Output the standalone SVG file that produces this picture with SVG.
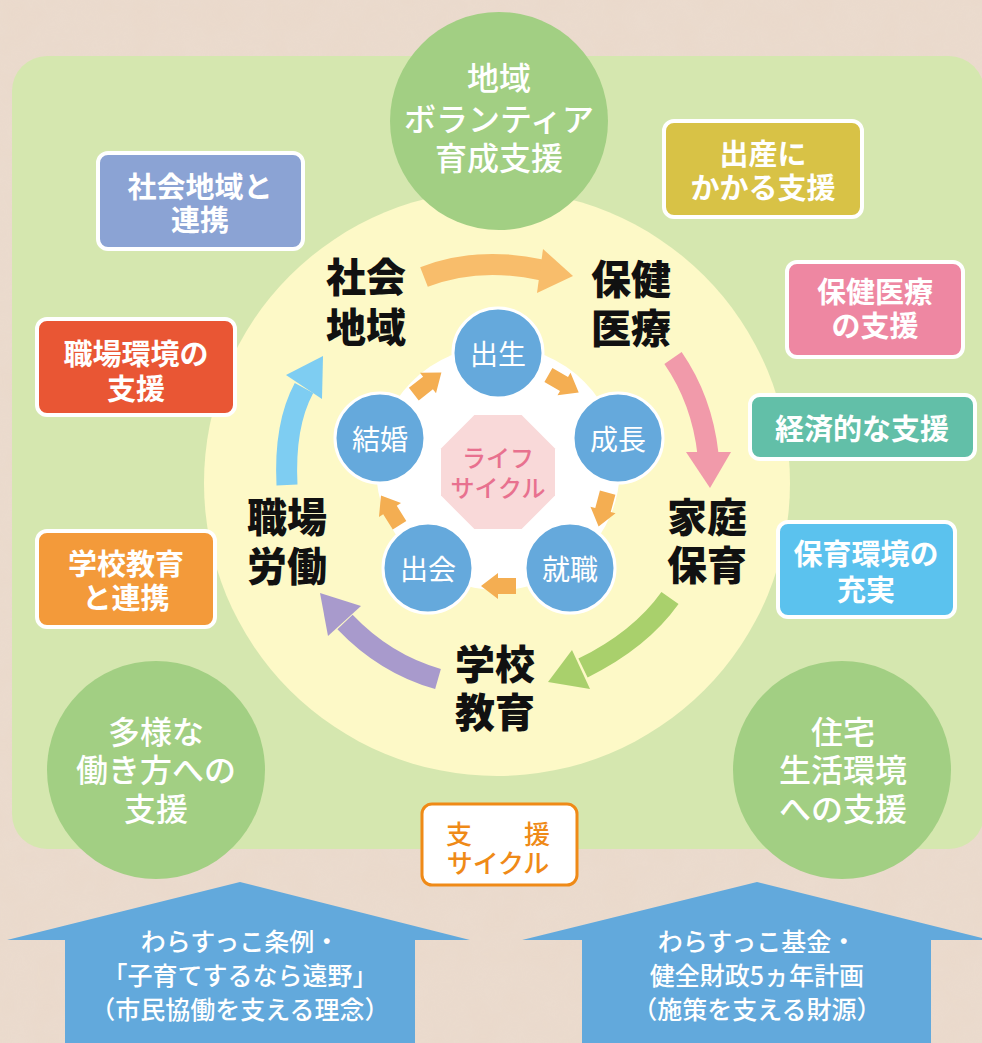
<svg xmlns="http://www.w3.org/2000/svg" width="982" height="1043" viewBox="0 0 982 1043">
<defs>
<style>
.jp{font-family:"Noto Sans CJK JP","Noto Sans",sans-serif;text-anchor:middle;dominant-baseline:central}
.big{font-size:40px;font-weight:900;fill:#111}
.box{stroke:#fff;stroke-width:4}
.bt{font-size:29px;font-weight:700;fill:#fff}
.ct{font-size:32px;font-weight:500;fill:#fff}
.sc{fill:#65a9dc;stroke:#fff;stroke-width:3}
.st{font-size:28px;fill:#fff}
.shaft{fill:none;stroke-width:21}
.at{font-size:25px;font-weight:500;fill:#fff}
</style>
<path id="sa" d="M-18,-8 H0 V-13 L17,0 L0,13 V8 H-18 Z" fill="#f4ae52"/>
<filter id="tex" x="0" y="0" width="100%" height="100%">
<feTurbulence type="fractalNoise" baseFrequency="0.03" numOctaves="3" seed="4"/>
<feColorMatrix values="0 0 0 0 0.85  0 0 0 0 0.78  0 0 0 0 0.72  0 0 0 0.35 0"/>
</filter>
</defs>
<rect width="982" height="1043" fill="#ead9cb"/>
<rect width="982" height="1043" filter="url(#tex)" opacity="0.6"/>
<rect x="12" y="56" width="972" height="793" rx="35" fill="#d5e7af"/>
<circle cx="497" cy="483" r="293" fill="#fdf9c7"/>
<circle cx="498" cy="468" r="122" fill="#fff"/>

<g id="circle-volunteer"><circle cx="499" cy="121" r="109" fill="#a2cf83"/>
<text class="jp ct"><tspan x="499" y="76">地域</tspan><tspan x="499" y="117">ボランティア</tspan><tspan x="499" y="156">育成支援</tspan></text></g>
<g id="circle-work"><circle cx="156" cy="770" r="109" fill="#a2cf83"/>
<text class="jp ct"><tspan x="156" y="730">多様な</tspan><tspan x="156" y="768">働き方への</tspan><tspan x="156" y="807">支援</tspan></text></g>
<g id="circle-housing"><circle cx="842" cy="770" r="109" fill="#a2cf83"/>
<text class="jp ct"><tspan x="843" y="730">住宅</tspan><tspan x="843" y="768">生活環境</tspan><tspan x="843" y="807">への支援</tspan></text></g>

<g id="box-community"><rect class="box" x="98" y="153" width="205" height="96" rx="10" fill="#8ba3d4"/>
<text class="jp bt"><tspan x="200" y="185">社会地域と</tspan><tspan x="200" y="218">連携</tspan></text></g>
<g id="box-birth"><rect class="box" x="664" y="121" width="198" height="96" rx="10" fill="#d8c246"/>
<text class="jp bt"><tspan x="763" y="152">出産に</tspan><tspan x="763" y="186">かかる支援</tspan></text></g>
<g id="box-health"><rect class="box" x="787" y="262" width="176" height="95" rx="10" fill="#ee87a2"/>
<text class="jp bt"><tspan x="875" y="290">保健医療</tspan><tspan x="875" y="324">の支援</tspan></text></g>
<g id="box-workplace"><rect class="box" x="37" y="319" width="198" height="96" rx="10" fill="#e95634"/>
<text class="jp bt"><tspan x="136" y="352">職場環境の</tspan><tspan x="136" y="387">支援</tspan></text></g>
<g id="box-economic"><rect class="box" x="750" y="395" width="225" height="64" rx="10" fill="#62bfa8"/>
<text class="jp bt" x="862" y="427">経済的な支援</text></g>
<g id="box-childcare"><rect class="box" x="778" y="522" width="177" height="95" rx="10" fill="#5bc2ee"/>
<text class="jp bt"><tspan x="866" y="552">保育環境の</tspan><tspan x="866" y="588">充実</tspan></text></g>
<g id="box-school"><rect class="box" x="37" y="531" width="178" height="96" rx="10" fill="#f39a3a"/>
<text class="jp bt"><tspan x="126" y="562">学校教育</tspan><tspan x="126" y="596">と連携</tspan></text></g>

<g id="connectors">
<path class="shaft" d="M424,277 Q478,256 542,270" stroke="#f8bd6b"/><polygon points="573,276 543,249 537,293" fill="#f8bd6b"/>
<path class="shaft" d="M673,358 Q702,400 708,454" stroke="#f19aaa"/><polygon points="710,488 686,452 731,452" fill="#f19aaa"/>
<path class="shaft" d="M670,598 Q640,640 583,668" stroke="#a9d06c"/><polygon points="548,682 572,650 590,689" fill="#a9d06c"/>
<path class="shaft" d="M438,679 Q385,664 345,622" stroke="#a89acc"/><polygon points="320,593 328,636 361,606" fill="#a89acc"/>
<path class="shaft" d="M287,485 Q284,425 304,388" stroke="#7ecdf2"/><polygon points="323,356 286,375 322,399" fill="#7ecdf2"/>
<use href="#sa" transform="translate(428,383) rotate(-38)"/>
<use href="#sa" transform="translate(564,384) rotate(30)"/>
<use href="#sa" transform="translate(603,510) rotate(105)"/>
<use href="#sa" transform="translate(498,586) rotate(180)"/>
<use href="#sa" transform="translate(390,510) rotate(-122)"/>
</g>

<g id="label-community"><text class="jp big"><tspan x="366" y="275">社会</tspan><tspan x="366" y="325">地域</tspan></text></g>
<g id="label-health"><text class="jp big"><tspan x="631" y="277">保健</tspan><tspan x="631" y="326">医療</tspan></text></g>
<g id="label-family"><text class="jp big"><tspan x="707" y="515">家庭</tspan><tspan x="707" y="563">保育</tspan></text></g>
<g id="label-school"><text class="jp big"><tspan x="495" y="662">学校</tspan><tspan x="495" y="710">教育</tspan></text></g>
<g id="label-work"><text class="jp big"><tspan x="287" y="515">職場</tspan><tspan x="287" y="564">労働</tspan></text></g>

<g id="life-cycle"><polygon points="474.4,415 521.6,415 555,448.4 555,495.6 521.6,529 474.4,529 441,495.6 441,448.4" fill="#f9d9d9"/>
<text class="jp" style="font-size:24px;font-weight:500;fill:#e8718f"><tspan x="498" y="456">ライフ</tspan><tspan x="498" y="486">サイクル</tspan></text></g>
<g id="node-birth"><circle class="sc" cx="498" cy="353" r="45"/><text class="jp st" x="498" y="353">出生</text></g>
<g id="node-growth"><circle class="sc" cx="618" cy="438" r="45"/><text class="jp st" x="618" y="438">成長</text></g>
<g id="node-job"><circle class="sc" cx="570" cy="568" r="45"/><text class="jp st" x="570" y="568">就職</text></g>
<g id="node-meet"><circle class="sc" cx="428" cy="568" r="45"/><text class="jp st" x="428" y="568">出会</text></g>
<g id="node-marriage"><circle class="sc" cx="380" cy="438" r="45"/><text class="jp st" x="380" y="438">結婚</text></g>

<g id="support-cycle"><rect x="422" y="804" width="155" height="81" rx="10" fill="#fff" stroke="#ef8a17" stroke-width="3"/>
<text class="jp" style="font-size:26px;font-weight:500;fill:#ef8a17"><tspan x="498" y="832">支　　援</tspan><tspan x="498" y="861">サイクル</tspan></text></g>

<g id="arrow-ordinance"><polygon points="240,882 470,940 415,940 415,1043 65,1043 65,940 7,940" fill="#62a9dc"/>
<text class="jp at"><tspan x="240" y="940">わらすっこ条例・</tspan><tspan x="240" y="974">「子育てするなら遠野」</tspan><tspan x="240" y="1008">（市民協働を支える理念）</tspan></text></g>
<g id="arrow-fund"><polygon points="757,882 990,940 931,940 931,1043 582,1043 582,940 522,940" fill="#62a9dc"/>
<text class="jp at"><tspan x="757" y="940">わらすっこ基金・</tspan><tspan x="757" y="974">健全財政5ヵ年計画</tspan><tspan x="757" y="1008">（施策を支える財源）</tspan></text></g>
</svg>
